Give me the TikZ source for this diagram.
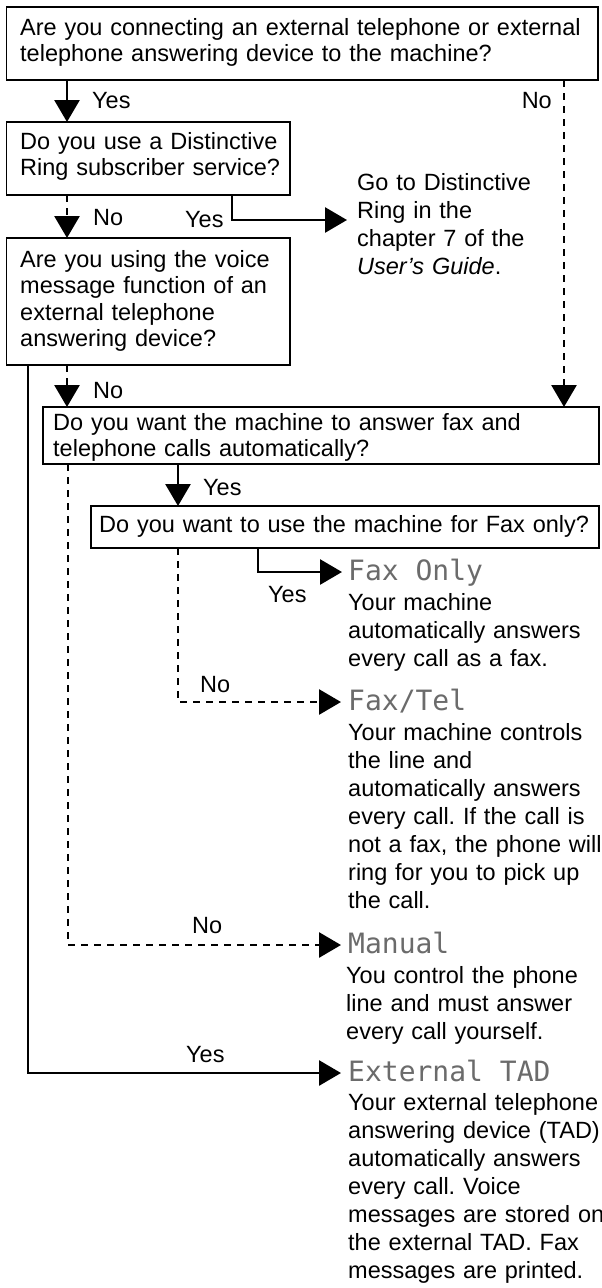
\documentclass[tikz,border=0pt]{standalone}
\usepackage{fontspec}
\setmainfont{Liberation Sans}
\newfontfamily\lcdfont{DejaVu Sans Mono}
\usetikzlibrary{arrows.meta,calc}
\definecolor{lcdgray}{gray}{0.42}
\frenchspacing
\begin{document}
\begin{tikzpicture}[x=1pt,y=-1pt,
  qbox/.style={draw, line width=1.4pt, inner sep=0pt, outer sep=0pt, anchor=north west},
  body/.style={anchor=base west, inner sep=0pt, align=left, text width=300pt, font=\fontsize{23.5pt}{28pt}\selectfont},
  qtext/.style={anchor=base west, inner sep=0pt, align=left, text width=580pt, font=\fontsize{23.5pt}{26.5pt}\selectfont},
  lbl/.style={anchor=base west, inner sep=0pt, font=\fontsize{23.5pt}{26.5pt}\selectfont},
  lcd/.style={anchor=base west, inner sep=0pt, text=lcdgray, font=\lcdfont\fontsize{28pt}{30pt}\selectfont},
  conn/.style={line width=2.8pt, -{Triangle[length=22pt,width=25pt]}},
  dconn/.style={conn, dash pattern=on 7pt off 6pt},
]
\useasboundingbox (0,0) rectangle (602,1288);

% question boxes
\node[qbox, minimum width=591.5pt, minimum height=73pt] (q1) at (6.5,7) {};
\node[qbox, minimum width=283.5pt, minimum height=73pt] (q2) at (6.5,122) {};
\node[qbox, minimum width=283.5pt, minimum height=127pt] (q3) at (6.5,238) {};
\node[qbox, minimum width=556pt, minimum height=57pt] (q4) at (43,407) {};
\node[qbox, minimum width=508pt, minimum height=42pt] (q5) at (91,506) {};

% question texts
\node[qtext] (q1t) at (20,35) {Are you connecting an external telephone or external\\telephone answering device to the machine?};
\node[qtext] (q2t) at (20,149) {Do you use a Distinctive\\Ring subscriber service?};
\node[qtext] (q3t) at (20,267) {Are you using the voice\\message function of an\\external telephone\\answering device?};
\node[qtext] (q4t) at (53,430) {Do you want the machine to answer fax and\\telephone calls automatically?};
\node[qtext] (q5t) at (99,532) {Do you want to use the machine for Fax only?};

% results
\node[body] (go) at (357,190) {Go to Distinctive\\Ring in the\\chapter 7 of the\\\textit{User’s Guide}.};
\node[lcd] (fo) at (348,580) {Fax Only};
\node[body] (fod) at (348,610) {Your machine\\automatically answers\\every call as a fax.};
\node[lcd] (ft) at (348,710) {Fax/Tel};
\node[body] (ftd) at (348,740) {Your machine controls\\the line and\\automatically answers\\every call. If the call is\\not a fax, the phone will\\ring for you to pick up\\the call.};
\node[lcd] (man) at (348,953) {Manual};
\node[body] (mand) at (346,983) {You control the phone\\line and must answer\\every call yourself.};
\node[lcd] (tad) at (348,1081) {External TAD};
\node[body] (tadd) at (348,1110) {Your external telephone\\answering device (TAD)\\automatically answers\\every call. Voice\\messages are stored on\\the external TAD. Fax\\messages are printed.};

% connectors
\draw[conn] (67,0 |- q1.south) -- (67,0 |- q2.north);
\draw[dconn] (564,0 |- q1.south) -- (564,0 |- q4.north);
\draw[dconn] (67,0 |- q2.south) -- (67,0 |- q3.north);
\draw[conn] (232,0 |- q2.south) |- ($(go.base west)+(-10,30)$);
\draw[dconn] (67,0 |- q3.south) -- (67,0 |- q4.north);
\draw[conn] (28,0 |- q3.south) |- ($(tad.base west)+(-7,-8)$);
\draw[conn] (178,0 |- q4.south) -- (178,0 |- q5.north);
\draw[dconn] (68,0 |- q4.south) |- ($(man.base west)+(-7,-8)$);
\draw[conn] (258,0 |- q5.south) |- ($(fo.base west)+(-6,-8)$);
\draw[dconn] (178,0 |- q5.south) |- ($(ft.base west)+(-7,-8)$);

% labels
\node[lbl] (l1) at (92,108) {Yes};
\node[lbl, anchor=base east] (l2) at (552,108) {No};
\node[lbl] (l3) at (93,225) {No};
\node[lbl] (l4) at (185,227) {Yes};
\node[lbl] (l5) at (93,398) {No};
\node[lbl] (l6) at (203,495) {Yes};
\node[lbl] (l7) at (268,602) {Yes};
\node[lbl] (l8) at (200,692) {No};
\node[lbl] (l9) at (192,933) {No};
\node[lbl] (l10) at (186,1062) {Yes};
\end{tikzpicture}
\end{document}
